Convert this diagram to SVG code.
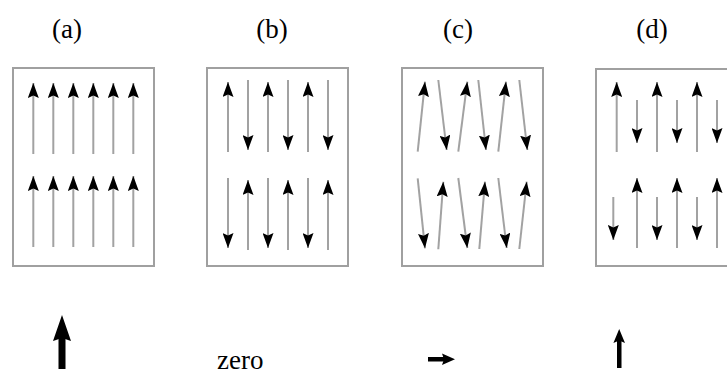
<svg xmlns="http://www.w3.org/2000/svg" width="727" height="376" viewBox="0 0 727 376">
<style>
.box{fill:#fff;stroke:#a0a0a0;stroke-width:2}
.s{stroke:#a2a2a2;stroke-width:2;fill:none;marker-end:url(#h)}
.lbl{font-family:"Liberation Serif",serif;font-size:27px;fill:#000}
</style>
<defs>
<marker id="h" markerUnits="userSpaceOnUse" viewBox="0 0 15 11" refX="15" refY="5.5" markerWidth="15" markerHeight="11" orient="auto">
<path d="M0,0 L15,5.5 L0,11 L2.5,5.5 z" fill="#000"/>
</marker>
</defs>
<rect width="727" height="376" fill="#fff"/>
<g id="label-a"><text class="lbl" x="67" y="38" text-anchor="middle">(a)</text></g>
<g id="label-b"><text class="lbl" x="272" y="38" text-anchor="middle">(b)</text></g>
<g id="label-c"><text class="lbl" x="458" y="38" text-anchor="middle">(c)</text></g>
<g id="label-d"><text class="lbl" x="652" y="38" text-anchor="middle">(d)</text></g>
<g id="panel-a"><rect class="box" x="13" y="68" width="141" height="198"/></g>
<g id="panel-b"><rect class="box" x="207" y="68" width="141" height="198"/></g>
<g id="panel-c"><rect class="box" x="402" y="68" width="141" height="198"/></g>
<g id="panel-d"><rect class="box" x="596" y="69" width="150" height="197"/></g>
<g id="connectors">
<line class="s" x1="33.3" y1="154" x2="33.3" y2="83"/>
<line class="s" x1="53.3" y1="154" x2="53.3" y2="83"/>
<line class="s" x1="73.3" y1="154" x2="73.3" y2="83"/>
<line class="s" x1="93.3" y1="154" x2="93.3" y2="83"/>
<line class="s" x1="113.3" y1="154" x2="113.3" y2="83"/>
<line class="s" x1="133.3" y1="154" x2="133.3" y2="83"/>
<line class="s" x1="33.3" y1="247" x2="33.3" y2="176"/>
<line class="s" x1="53.3" y1="247" x2="53.3" y2="176"/>
<line class="s" x1="73.3" y1="247" x2="73.3" y2="176"/>
<line class="s" x1="93.3" y1="247" x2="93.3" y2="176"/>
<line class="s" x1="113.3" y1="247" x2="113.3" y2="176"/>
<line class="s" x1="133.3" y1="247" x2="133.3" y2="176"/>
<line class="s" x1="228" y1="152" x2="228" y2="82"/>
<line class="s" x1="248" y1="80" x2="248" y2="150"/>
<line class="s" x1="268" y1="152" x2="268" y2="82"/>
<line class="s" x1="288" y1="80" x2="288" y2="150"/>
<line class="s" x1="308" y1="152" x2="308" y2="82"/>
<line class="s" x1="328" y1="80" x2="328" y2="150"/>
<line class="s" x1="228" y1="178" x2="228" y2="248"/>
<line class="s" x1="248" y1="250" x2="248" y2="180"/>
<line class="s" x1="268" y1="178" x2="268" y2="248"/>
<line class="s" x1="288" y1="250" x2="288" y2="180"/>
<line class="s" x1="308" y1="178" x2="308" y2="248"/>
<line class="s" x1="328" y1="250" x2="328" y2="180"/>
<line class="s" x1="417.7" y1="151.7" x2="425" y2="81.7"/>
<line class="s" x1="438.3" y1="80" x2="446.7" y2="150"/>
<line class="s" x1="458.3" y1="151.7" x2="467.3" y2="81.7"/>
<line class="s" x1="478.3" y1="80" x2="486" y2="150"/>
<line class="s" x1="498.3" y1="151.7" x2="506" y2="81.7"/>
<line class="s" x1="519.3" y1="80" x2="527.3" y2="150"/>
<line class="s" x1="417.7" y1="178.3" x2="425" y2="248.3"/>
<line class="s" x1="438.3" y1="249.3" x2="443.3" y2="181.7"/>
<line class="s" x1="458.3" y1="178" x2="467.3" y2="248"/>
<line class="s" x1="479.3" y1="249" x2="485" y2="181.7"/>
<line class="s" x1="498.3" y1="178" x2="506.7" y2="248"/>
<line class="s" x1="519.3" y1="249" x2="526.7" y2="181.7"/>
<line class="s" x1="616.7" y1="152" x2="616.7" y2="82"/>
<line class="s" x1="637" y1="100" x2="637" y2="143"/>
<line class="s" x1="657" y1="152" x2="657" y2="82"/>
<line class="s" x1="677" y1="100" x2="677" y2="143"/>
<line class="s" x1="697" y1="152" x2="697" y2="82"/>
<line class="s" x1="717" y1="100" x2="717" y2="143"/>
<line class="s" x1="613.3" y1="197" x2="613.3" y2="240"/>
<line class="s" x1="637" y1="248" x2="637" y2="178"/>
<line class="s" x1="657" y1="197" x2="657" y2="240"/>
<line class="s" x1="677" y1="248" x2="677" y2="178"/>
<line class="s" x1="697" y1="197" x2="697" y2="240"/>
<line class="s" x1="717" y1="248" x2="717" y2="178"/>
</g>
<g id="result-a">
<rect x="58.5" y="336" width="7" height="33" fill="#000"/>
<path d="M62,315 L71,341 L62,338 L53,341 z" fill="#000"/>
</g>
<g id="result-b"><text class="lbl" x="217" y="369" font-size="29">zero</text></g>
<g id="result-c">
<rect x="428" y="357" width="17" height="4.5" fill="#000"/>
<path d="M455,359.2 L442,353.5 L444,359.2 L442,365 z" fill="#000"/>
</g>
<g id="result-d">
<rect x="617" y="340" width="4.5" height="28" fill="#000"/>
<path d="M619.2,329 L625,343 L619.2,340.5 L613.4,343 z" fill="#000"/>
</g>
</svg>
